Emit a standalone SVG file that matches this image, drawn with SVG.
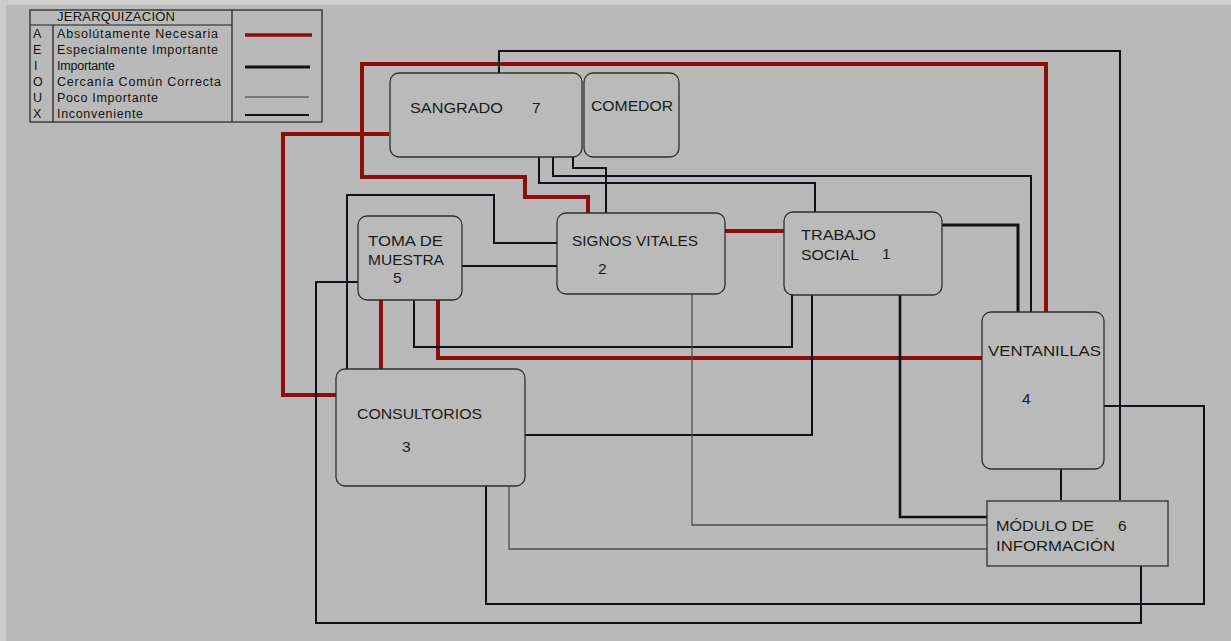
<svg xmlns="http://www.w3.org/2000/svg" width="1231" height="641" viewBox="0 0 1231 641">
<style>
.bg{fill:#b9b9b9}
.edge{fill:#cdcdcd}
.node rect{fill:#bababa;stroke:#2e2e2e;stroke-width:1.3}
.lbl{font-family:"Liberation Sans",Arial,sans-serif;font-size:15.5px;fill:#1a1a1a}
.lg{font-family:"Liberation Sans",Arial,sans-serif;font-size:12.5px;fill:#111}
.grid{fill:none;stroke:#1e1e1e;stroke-width:1.2}
.a{fill:none;stroke:#8e0c0c;stroke-width:4}
.i{fill:none;stroke:#121212;stroke-width:3}
.x{fill:none;stroke:#10101a;stroke-width:2}
.u{fill:none;stroke:#4d4d4d;stroke-width:1.3}
</style>
<rect class="bg" x="0" y="0" width="1231" height="641"/>
<rect class="edge" x="0" y="0" width="1231" height="5"/>
<rect class="edge" x="0" y="0" width="6" height="641"/>

<g id="legend">
  <rect class="grid" x="30" y="10" width="292" height="112"/>
  <path class="grid" d="M53,25 V122 M232,10 V122 M30,25 H232"/>
  <text class="lg" x="57" y="20.5" textLength="118" lengthAdjust="spacing" style="font-size:13px">JERARQUIZACIÓN</text>
  <text class="lg" x="33" y="38">A</text>
  <text class="lg" x="33" y="54">E</text>
  <text class="lg" x="34" y="70">I</text>
  <text class="lg" x="33" y="86">O</text>
  <text class="lg" x="33" y="102">U</text>
  <text class="lg" x="33" y="118">X</text>
  <text class="lg" x="57" y="38" textLength="161" lengthAdjust="spacing">Absolútamente Necesaria</text>
  <text class="lg" x="57" y="54" textLength="161" lengthAdjust="spacing">Especialmente Importante</text>
  <text class="lg" x="57" y="70" textLength="58" lengthAdjust="spacing">Importante</text>
  <text class="lg" x="57" y="86" textLength="164" lengthAdjust="spacing">Cercanía Común Correcta</text>
  <text class="lg" x="57" y="102" textLength="101" lengthAdjust="spacing">Poco Importante</text>
  <text class="lg" x="57" y="118" textLength="86" lengthAdjust="spacing">Inconveniente</text>
  <path class="a" d="M245,35 H312" style="stroke-width:3.5"/>
  <path class="i" d="M245,67 H310"/>
  <path class="u" d="M245,97 H309" style="stroke:#666"/>
  <path class="x" d="M245,115 H309"/>
</g>

<g id="connectors">
  <path class="a" d="M389,134 H283 V395 H336"/>
  <path class="a" d="M1046,312 V64 H362 V177 H525 V197 H588 V213"/>
  <path class="a" d="M725,231 H784"/>
  <path class="a" d="M381,300 V369"/>
  <path class="a" d="M438,300 V358 H982"/>
  <path class="i" d="M942,225 H1018 V312"/>
  <path class="x" d="M499,73 V51 H1120 V500"/>
  <path class="x" d="M553,157 V176 H1031 V312"/>
  <path class="x" d="M539,157 V183 H815 V212"/>
  <path class="x" d="M573,157 V168 H606 V213"/>
  <path class="x" d="M557,243 H494 V195 H347 V369"/>
  <path class="x" d="M462,266 H557"/>
  <path class="x" d="M358,282 H316 V623 H1141 V566"/>
  <path class="x" d="M414,300 V347 H792 V295"/>
  <path class="x" d="M525,435 H812 V295"/>
  <path class="u" d="M692,294 V525 H987"/>
  <path class="u" d="M509,486 V549 H987"/>
  <path class="x" d="M486,486 V604 H1204 V406 H1104"/>
  <path class="x" d="M900,295 V517 H987" style="stroke-width:2.6"/>
  <path class="x" d="M1061,469 V500"/>
</g>

<g id="sangrado" class="node">
  <rect x="390" y="73" width="192" height="84" rx="9"/>
  <text class="lbl" x="410" y="113" textLength="93" lengthAdjust="spacingAndGlyphs">SANGRADO</text>
  <text class="lbl" x="532" y="113">7</text>
</g>
<g id="comedor" class="node">
  <rect x="584" y="73" width="95" height="84" rx="9"/>
  <text class="lbl" x="591" y="111" textLength="82" lengthAdjust="spacingAndGlyphs">COMEDOR</text>
</g>
<g id="toma-de-muestra" class="node">
  <rect x="358" y="216" width="104" height="84" rx="9"/>
  <text class="lbl" x="368" y="246" textLength="75" lengthAdjust="spacingAndGlyphs">TOMA DE</text>
  <text class="lbl" x="368" y="265" textLength="76" lengthAdjust="spacingAndGlyphs">MUESTRA</text>
  <text class="lbl" x="393" y="283">5</text>
</g>
<g id="signos-vitales" class="node">
  <rect x="557" y="213" width="168" height="81" rx="9"/>
  <text class="lbl" x="572" y="246" textLength="126" lengthAdjust="spacingAndGlyphs">SIGNOS VITALES</text>
  <text class="lbl" x="598" y="274">2</text>
</g>
<g id="trabajo-social" class="node">
  <rect x="784" y="212" width="158" height="83" rx="9"/>
  <text class="lbl" x="801" y="240" textLength="75" lengthAdjust="spacingAndGlyphs">TRABAJO</text>
  <text class="lbl" x="801" y="260" textLength="58" lengthAdjust="spacingAndGlyphs">SOCIAL</text>
  <text class="lbl" x="882" y="259">1</text>
</g>
<g id="ventanillas" class="node">
  <rect x="982" y="312" width="122" height="157" rx="9"/>
  <text class="lbl" x="988" y="356" textLength="113" lengthAdjust="spacingAndGlyphs">VENTANILLAS</text>
  <text class="lbl" x="1022" y="404">4</text>
</g>
<g id="consultorios" class="node">
  <rect x="336" y="369" width="189" height="117" rx="9"/>
  <text class="lbl" x="357" y="419" textLength="125" lengthAdjust="spacingAndGlyphs">CONSULTORIOS</text>
  <text class="lbl" x="402" y="452">3</text>
</g>
<g id="modulo-de-informacion" class="node">
  <rect x="987" y="501" width="181" height="65"/>
  <text class="lbl" x="996" y="531" textLength="98" lengthAdjust="spacingAndGlyphs">MÓDULO DE</text>
  <text class="lbl" x="1118" y="531">6</text>
  <text class="lbl" x="996" y="551" textLength="119" lengthAdjust="spacingAndGlyphs">INFORMACIÓN</text>
</g>
</svg>
